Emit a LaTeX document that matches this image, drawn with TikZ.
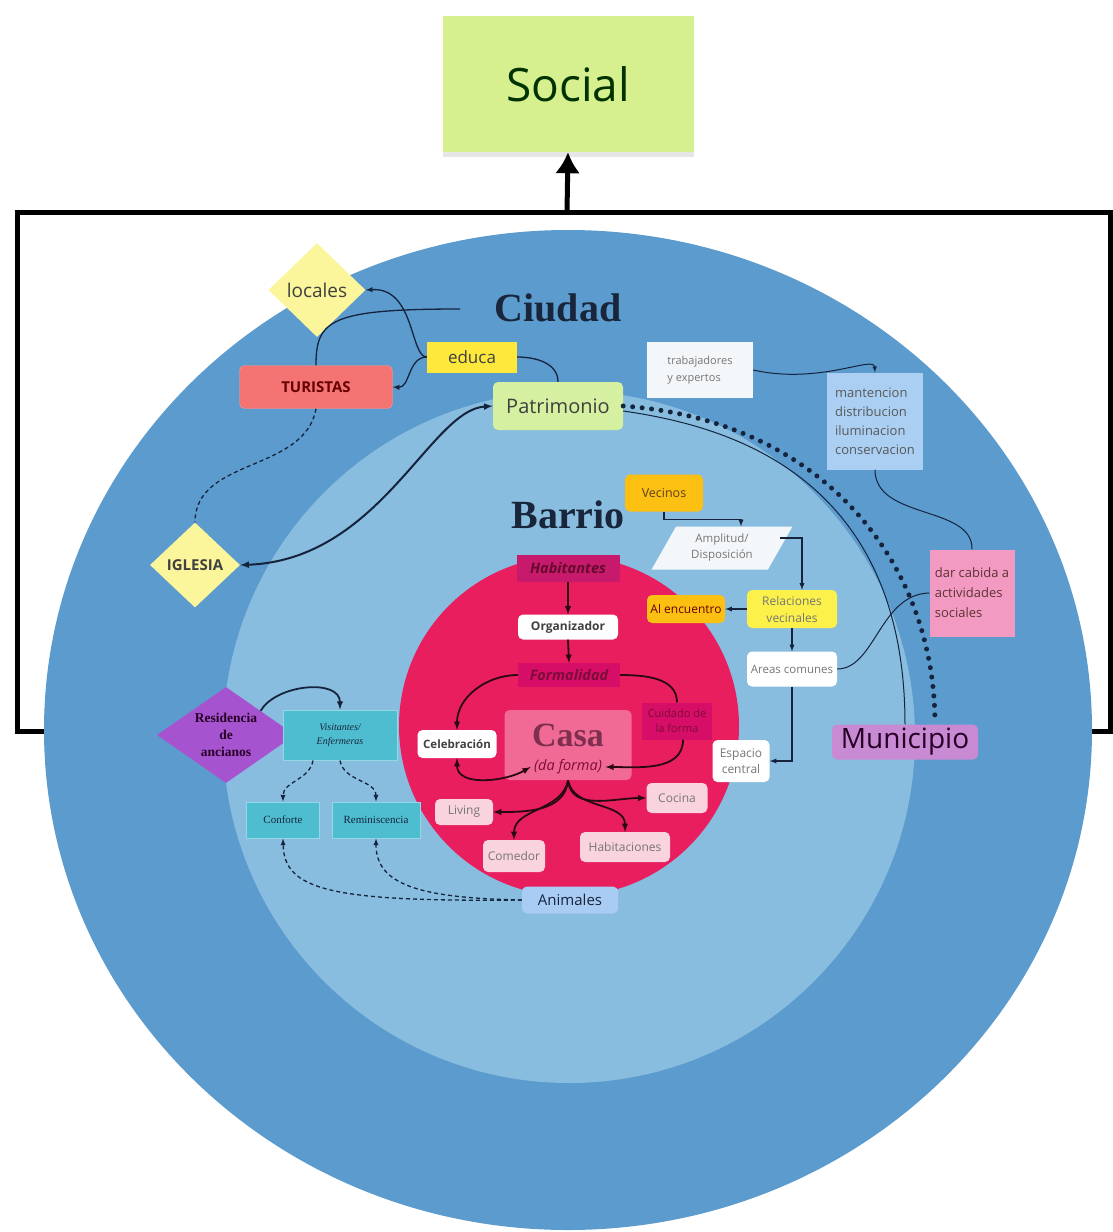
\documentclass[tikz,border=0pt]{standalone}
\usepackage{fontspec}
\setmainfont{Open Sans}
\newfontfamily\serifface{Liberation Serif}
\usetikzlibrary{shapes.geometric,shadows,arrows.meta,positioning}
\newcommand{\fsz}[2]{\fontsize{#1}{#2}\selectfont}

\definecolor{ciudadblue}{HTML}{5C9BCD}
\definecolor{barrioblue}{HTML}{88BDDF}
\definecolor{casared}{HTML}{E81E5E}
\definecolor{casapink}{HTML}{F06A95}
\definecolor{socialgreen}{HTML}{D6EF8F}
\definecolor{lightyellow}{HTML}{FBF59B}
\definecolor{educayellow}{HTML}{FDE83B}
\definecolor{turistared}{HTML}{F47373}
\definecolor{patrigreen}{HTML}{D5F0A0}
\definecolor{paperwhite}{HTML}{F4F7FA}
\definecolor{mantblue}{HTML}{AACFF3}
\definecolor{vecinosorange}{HTML}{FBC012}
\definecolor{relyellow}{HTML}{FBF14A}
\definecolor{habmagenta}{HTML}{C81A6C}
\definecolor{formmagenta}{HTML}{D60E68}
\definecolor{roompink}{HTML}{F9D3DE}
\definecolor{animalblue}{HTML}{A9CCF5}
\definecolor{munipurple}{HTML}{C88BD3}
\definecolor{residpurple}{HTML}{A653CF}
\definecolor{visitteal}{HTML}{4EBDD0}
\definecolor{darpink}{HTML}{F39AC3}
\definecolor{linkblue}{HTML}{15233D}
\definecolor{linkred}{HTML}{2A0A12}
\definecolor{titlenavy}{HTML}{18253A}
\definecolor{softgray}{HTML}{767676}
\definecolor{winered}{HTML}{7E0C3A}

\tikzset{
  >=latex,
}
\tikzstyle{box}=[rectangle,inner sep=2pt,align=center]
\tikzstyle{rbox}=[box,rounded corners=5pt]
\tikzstyle{gem}=[diamond,inner sep=0pt,align=center]
\tikzstyle{title}=[font=\serifface\bfseries\fsz{40}{44},text=titlenavy]
\tikzstyle{frame}=[line width=5pt,black]
\tikzstyle{link}=[draw=linkblue,line width=1.3pt]
\tikzstyle{redlink}=[draw=linkred,line width=1.8pt]
\tikzstyle{dashlink}=[link,dash pattern=on 4pt off 3pt]
\tikzstyle{dotline}=[draw=linkblue,line width=5pt,line cap=round,dash pattern=on 0pt off 9.5pt]
\tikzstyle{room}=[rbox,fill=roompink,text=softgray,font=\fsz{12}{14}]
\tikzstyle{teal}=[box,fill=visitteal,draw=visitteal!60!white,line width=1pt,font=\serifface\fsz{11}{13},text=titlenavy]

\begin{document}
\begin{tikzpicture}[x=1pt,y=-1pt]
  \useasboundingbox (0,0) rectangle (1113,1232);
  % frame and rings
  \draw[frame] (17,212) rectangle (1110,731);
  \fill[ciudadblue] (568,730) ellipse [x radius=524pt,y radius=500pt];
  \fill[barrioblue] (569,737) circle [radius=346pt];
  \fill[casared] (569,726) circle [radius=170pt];

  \node[box,fill=socialgreen,minimum width=251pt,minimum height=136pt,
    drop shadow={opacity=0.2,shadow xshift=0pt,shadow yshift=-5pt},
    font=\fsz{46}{55},text=black!80!green] (social) at (568,84) {Social};
  \coordinate (frametop) at (567,212);
  \draw[line width=5pt,-{Latex[length=21pt,width=25pt]}] (frametop) -- (social.south);

  \node[title] (ciudad) at (558,308) {Ciudad};
  \node[title] (barrio) at (568,515) {Barrio};

  % ciudad
  \node[gem,aspect=1,fill=lightyellow,minimum width=97pt,
    minimum height=94pt,font=\fsz{19}{22},text=black!75] (locales) at (317,290) {locales};
  \node[box,fill=educayellow,minimum width=90pt,minimum height=31pt,
    font=\fsz{17}{20},text=black!75] (educa) at (472,357) {educa};
  \node[rbox,fill=turistared,draw=turistared!70!white,minimum width=153pt,minimum height=43pt,
    font=\bfseries\fsz{15}{18},text=red!40!black] (turistas) at (316,387) {TURISTAS};
  \node[rbox,fill=patrigreen,minimum width=130pt,minimum height=48pt,
    font=\fsz{20}{24},text=black!75] (patrimonio) at (558,406) {Patrimonio};
  \node[gem,aspect=1.06,fill=lightyellow,minimum width=90pt,
    minimum height=85pt,font=\bfseries\fsz{15}{18},text=black!75] (iglesia) at (195,565) {IGLESIA};
  \node[box,fill=paperwhite,minimum width=106pt,minimum height=56pt,align=left,
    font=\fsz{11}{17},text=softgray] (trabajadores) at (700,370) {trabajadores\\y expertos};
  \node[box,fill=mantblue,minimum width=96pt,minimum height=97pt,align=left,
    font=\fsz{13}{19},text=black!65] (mantencion) at (875,421) {mantencion\\distribucion\\iluminacion\\conservacion};
  \node[box,fill=darpink,minimum width=85pt,minimum height=87pt,align=left,
    font=\fsz{13}{20},text=red!20!black!80] (darcabida) at (972,593) {dar cabida a\\ actividades\\sociales};
  \node[rbox,fill=munipurple,minimum width=146pt,minimum height=35pt,
    font=\fsz{28}{32},text=violet!30!black] (municipio) at (905,742) {Municipio};

  % barrio
  \node[rbox,fill=vecinosorange,minimum width=78pt,minimum height=37pt,
    font=\fsz{12.5}{15},text=brown!50!black] (vecinos) at (664,493) {Vecinos};
  \node[trapezium,trapezium left angle=62,trapezium right angle=118,trapezium stretches=true,
    fill=paperwhite,minimum width=141pt,minimum height=43pt,align=center,
    font=\fsz{11.5}{16},text=softgray] (amplitud) at (722,548) {Amplitud/\\Disposición};
  \node[rbox,fill=relyellow,minimum width=90pt,minimum height=38pt,
    font=\fsz{12}{17},text=softgray] (relaciones) at (792,609) {Relaciones\\vecinales};
  \node[rbox,fill=vecinosorange,minimum width=78pt,minimum height=28pt,
    font=\fsz{12}{14},text=red!40!black] (alencuentro) at (686,609) {Al encuentro};
  \node[rbox,fill=white,minimum width=90pt,minimum height=35pt,
    font=\fsz{11.5}{14},text=softgray] (areas) at (792,669) {Areas comunes};
  \node[rbox,fill=white,minimum width=57pt,minimum height=42pt,
    font=\fsz{12}{16},text=softgray] (espacio) at (741,761) {Espacio\\central};

  \node[gem,aspect=1.44,fill=residpurple,minimum width=138pt,
    minimum height=96pt,font=\serifface\bfseries\fsz{13.5}{17},text=violet!30!black] (residencia) at (226,735) {Residencia\\de\\ancianos};
  \node[teal,minimum width=114pt,minimum height=50pt,font=\serifface\itshape\fsz{10}{14}] (visitantes) at (340,735) {Visitantes/\\Enfermeras};
  \node[teal,minimum width=73pt,minimum height=36pt] (conforte) at (283,820) {Conforte};
  \node[teal,minimum width=88pt,minimum height=36pt] (reminiscencia) at (376,820) {Reminiscencia};
  \node[rbox,fill=animalblue,minimum width=96pt,minimum height=27pt,
    font=\fsz{15}{18},text=titlenavy] (animales) at (570,900) {Animales};

  % casa
  \node[box,fill=habmagenta,minimum width=103pt,minimum height=27pt,
    font=\bfseries\itshape\fsz{14.5}{17},text=winered!80!black] (habitantes) at (568,568) {Habitantes};
  \node[rbox,fill=white,minimum width=100pt,minimum height=25pt,
    font=\bfseries\fsz{12}{14},text=black!75] (organizador) at (568,627) {Organizador};
  \node[box,fill=formmagenta,minimum width=102pt,minimum height=24pt,
    font=\bfseries\itshape\fsz{14.5}{17},text=winered] (formalidad) at (569,675) {Formalidad};
  \node[box,fill=formmagenta,minimum width=70pt,minimum height=37pt,
    font=\fsz{11}{15},text=winered] (cuidado) at (677,721) {Cuidado de\\la forma};
  \node[rbox,fill=white,minimum width=79pt,minimum height=28pt,
    font=\bfseries\fsz{11.5}{14},text=black!75] (celebracion) at (457,744) {Celebración};
  \node[rbox,fill=casapink,minimum width=127pt,minimum height=70pt] (casa) at (568,745) {};
  \node[font=\serifface\bfseries\fsz{34}{38},text=winered!70!gray] (casaname) at (568,735) {Casa};
  \node[font=\itshape\fsz{14.5}{17},text=winered] (daforma) at (568,767) {(da forma)};
  \node[room,minimum width=58pt,minimum height=26pt] (living) at (464,812) {Living};
  \node[room,minimum width=62pt,minimum height=32pt] (comedor) at (514,856) {Comedor};
  \node[room,minimum width=90pt,minimum height=30pt] (habitaciones) at (625,847) {Habitaciones};
  \node[room,minimum width=61pt,minimum height=30pt] (cocina) at (677,798) {Cocina};

  % ciudad connectors
  \coordinate (cityline) at (460,309);
  \draw[link,->] (educa.west) .. controls (410,357) and (415,287) .. (locales.east);
  \draw[link,->] (educa.west) .. controls (408,357) and (410,388) .. (turistas.east);
  \draw[link] (educa.east) to[out=0,in=90] (patrimonio.north);
  \draw[link] (turistas.north) .. controls (316,320) and (330,309) .. (cityline);
  \draw[dashlink] (turistas.south) to[out=-100,in=90] (iglesia.north);
  \draw[link,<->,line width=2pt] (patrimonio.west) .. controls (430,410) and (380,560) .. (iglesia.east);
  \draw[dotline] (patrimonio.east) .. controls (820,420) and (935,560) .. ([xshift=30pt]municipio.north);
  \draw[link,line width=1pt] ([yshift=-5pt]patrimonio.east) .. controls (720,425) and (905,470) .. (municipio.north);
  \draw[link,->,line width=1pt] (trabajadores.east) .. controls (820,385) and (874,355) .. (mantencion.north);
  \draw[link,line width=1pt] (mantencion.south) .. controls (875,520) and (973,505) .. (darcabida.north);
  \draw[link,line width=1pt] (areas.east) .. controls (875,669) and (880,594) .. (darcabida.west);

  % barrio connectors
  \draw[link,->] (vecinos.south) -- ++(0,8) -| ([xshift=19pt]amplitud.north);
  \draw[link,->] ([yshift=10pt]amplitud.east) -| ([xshift=10pt]relaciones.north);
  \draw[link,->] (relaciones.west) -- (alencuentro.east);
  \draw[link,->] (relaciones.south) -- (areas.north);
  \draw[link,->] (areas.south) |- (espacio.east);
  \draw[link,->,line width=1.8pt] (residencia.north east) to[out=60,in=90] (visitantes.north);
  \draw[dashlink,->] ([xshift=-27pt]visitantes.south) to[out=-100,in=90] (conforte.north);
  \draw[dashlink,->] (visitantes.south) to[out=-80,in=90] (reminiscencia.north);
  \draw[dashlink,->] (animales.west) .. controls (330,902) and (284,890) .. (conforte.south);
  \draw[dashlink,->] (animales.west) .. controls (420,898) and (376,885) .. (reminiscencia.south);

  % casa connectors
  \draw[redlink,->] (habitantes.south) -- (organizador.north);
  \draw[redlink,->] (organizador.south) -- (formalidad.north);
  \draw[redlink,->] (formalidad.west) to[out=180,in=90] (celebracion.north);
  \draw[redlink] (formalidad.east) to[out=0,in=90] (cuidado.north);
  \draw[redlink,->] ([xshift=6pt]cuidado.south) to[out=-90,in=0] (daforma.east);
  \draw[redlink,<->] (celebracion.south) to[out=-90,in=210] (daforma.west);
  \draw[redlink,->] (casa.south) to[out=-95,in=0] (living.east);
  \draw[redlink,->] (casa.south) to[out=-100,in=90] (comedor.north);
  \draw[redlink,->] (casa.south) to[out=-80,in=90] (habitaciones.north);
  \draw[redlink,->] (casa.south) to[out=-85,in=180] (cocina.west);
\end{tikzpicture}
\end{document}
